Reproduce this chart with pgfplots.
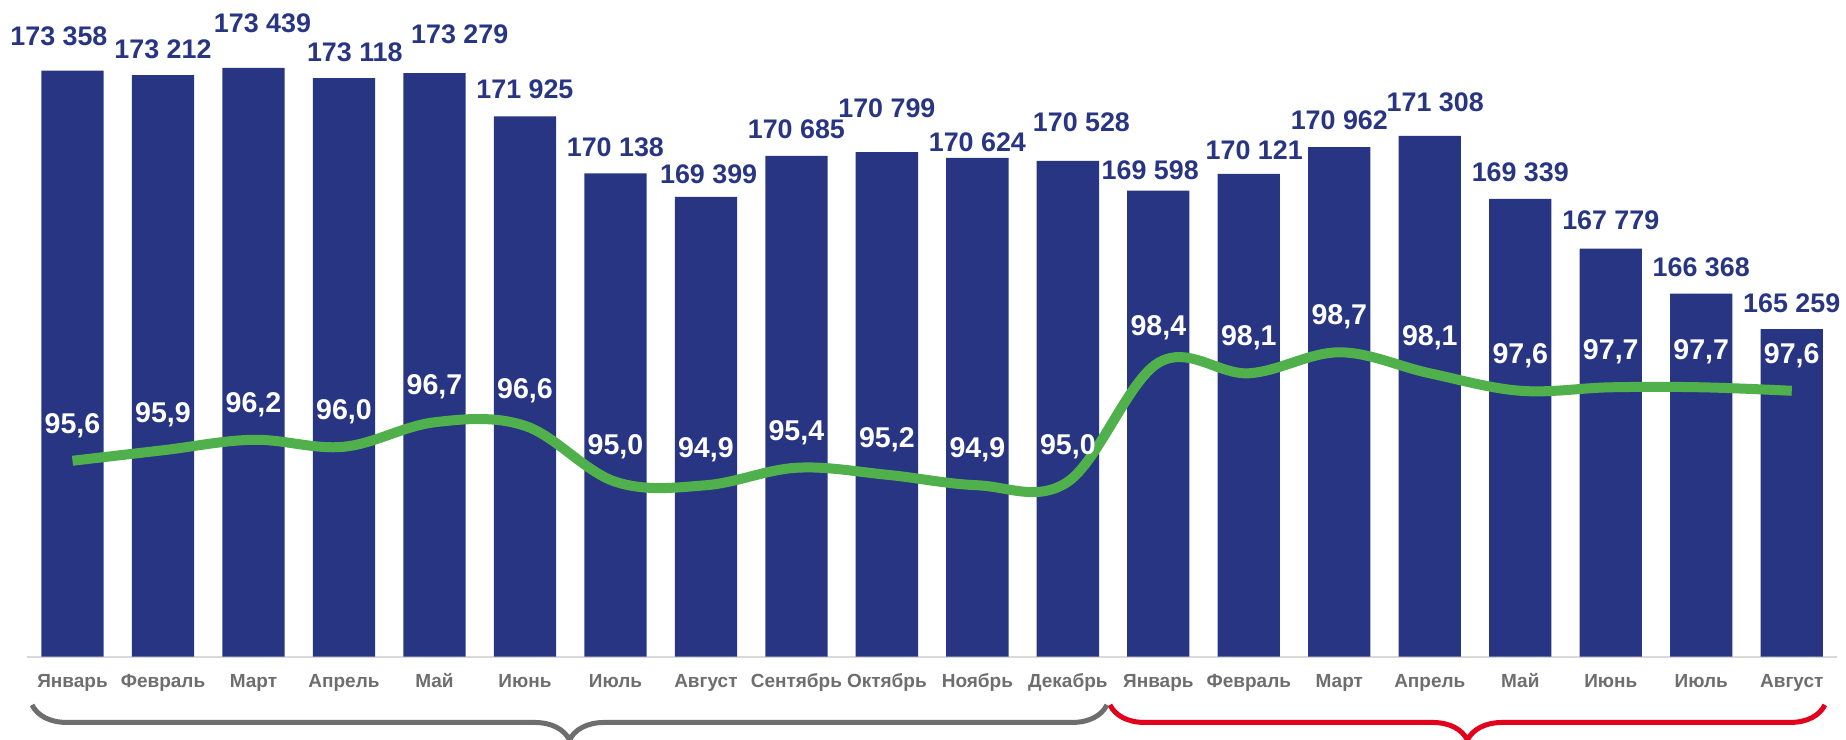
\documentclass[border=0pt]{standalone}
\usepackage{pgfplots}
\pgfplotsset{compat=1.18}
\usepackage{pgfplotstable}
\usepackage{fontspec}
\setmainfont{Liberation Sans}
\usetikzlibrary{calc,decorations.pathreplacing}
\definecolor{barblue}{RGB}{40,53,131}
\definecolor{lgreen}{RGB}{80,176,76}
\definecolor{lblgray}{RGB}{110,110,110}
\definecolor{bred}{RGB}{226,0,26}
\definecolor{axgray}{RGB}{217,217,217}

\pgfplotstableread[col sep=semicolon]{
x;v;p;lx;ly;lab
0;173358;95.6;-0.15;174417;173 358
1;173212;95.9;1.00;174032;173 212
2;173439;96.2;2.10;174853;173 439
3;173118;96.0;3.12;173945;173 118
4;173279;96.7;4.28;174502;173 279
5;171925;96.6;5.00;172764;171 925
6;170138;95.0;6.00;170941;170 138
7;169399;94.9;7.03;170118;169 399
8;170685;95.4;8.00;171517;170 685
9;170799;95.2;9.00;172175;170 799
10;170624;94.9;10.00;171098;170 624
11;170528;95.0;11.15;171746;170 528
12;169598;98.4;11.91;170221;169 598
13;170121;98.1;13.06;170869;170 121
14;170962;98.7;14.00;171787;170 962
15;171308;98.1;15.06;172357;171 308
16;169339;97.6;16.00;170180;169 339
17;167779;97.7;17.00;168677;167 779
18;166368;97.7;18.00;167205;166 368
19;165259;97.6;19.00;166055;165 259
}\data

\begin{document}
\begin{tikzpicture}
\begin{axis}[
  name=ax, at={(0,0)}, anchor=south west,
  scale only axis, width=633.43pt, height=229.85pt,
  xmin=-0.5, xmax=19.5, ymin=155000, ymax=175567,
  axis x line*=bottom, axis y line=none,
  x axis line style={draw=axgray, line width=0.7pt, -},
  xtick={0,...,19},
  xticklabels={Январь,Февраль,Март,Апрель,Май,Июнь,Июль,Август,Сентябрь,Октябрь,Ноябрь,Декабрь,Январь,Февраль,Март,Апрель,Май,Июнь,Июль,Август},
  major tick length=0pt,
  xticklabel style={anchor=base, yshift=-10.85pt, font=\fontsize{6.65}{8}\selectfont\bfseries, text=lblgray},
]
\addplot[ybar, bar width=21.8pt, bar shift=0pt, fill=barblue, draw=none] table[x=x, y=v]{\data};
\addplot[draw=none, mark=none, nodes near coords, point meta=explicit symbolic,
  nodes near coords style={anchor=center, font=\fontsize{9.4}{11}\selectfont\bfseries, text=barblue}]
  table[x=lx, y=ly, meta=lab]{\data};
\end{axis}
\begin{axis}[
  at={(0,0)}, anchor=south west,
  scale only axis, width=633.43pt, height=229.85pt,
  xmin=-0.5, xmax=19.5, ymin=90, ymax=108.77,
  hide axis, clip=false,
]
\addplot[smooth, tension=0.6, line width=3.5pt, color=lgreen, mark=none,
  point meta=y,
  nodes near coords={\pgfmathprintnumber[fixed, fixed zerofill, precision=1, use comma, assume math mode=true]{\pgfplotspointmeta}},
  nodes near coords style={anchor=center, yshift=12.3pt, text=white, font=\fontsize{10}{12}\selectfont\bfseries}]
  table[x=x, y=p]{\data};
\draw[decorate, decoration={brace, mirror, amplitude=12.25pt}, line width=1.75pt, draw=lblgray]
  (axis cs:-0.4475,88.62) -- (axis cs:11.432,88.62);
\draw[decorate, decoration={brace, mirror, amplitude=12.25pt}, line width=1.75pt, draw=bred]
  (axis cs:11.465,88.62) -- (axis cs:19.366,88.62);
\end{axis}
\pgfresetboundingbox
\path[use as bounding box] ($(ax.south west)+(-9.54pt,-29.16pt)$) rectangle ($(ax.north east)+(3.15pt,0pt)$);
\end{tikzpicture}
\end{document}
